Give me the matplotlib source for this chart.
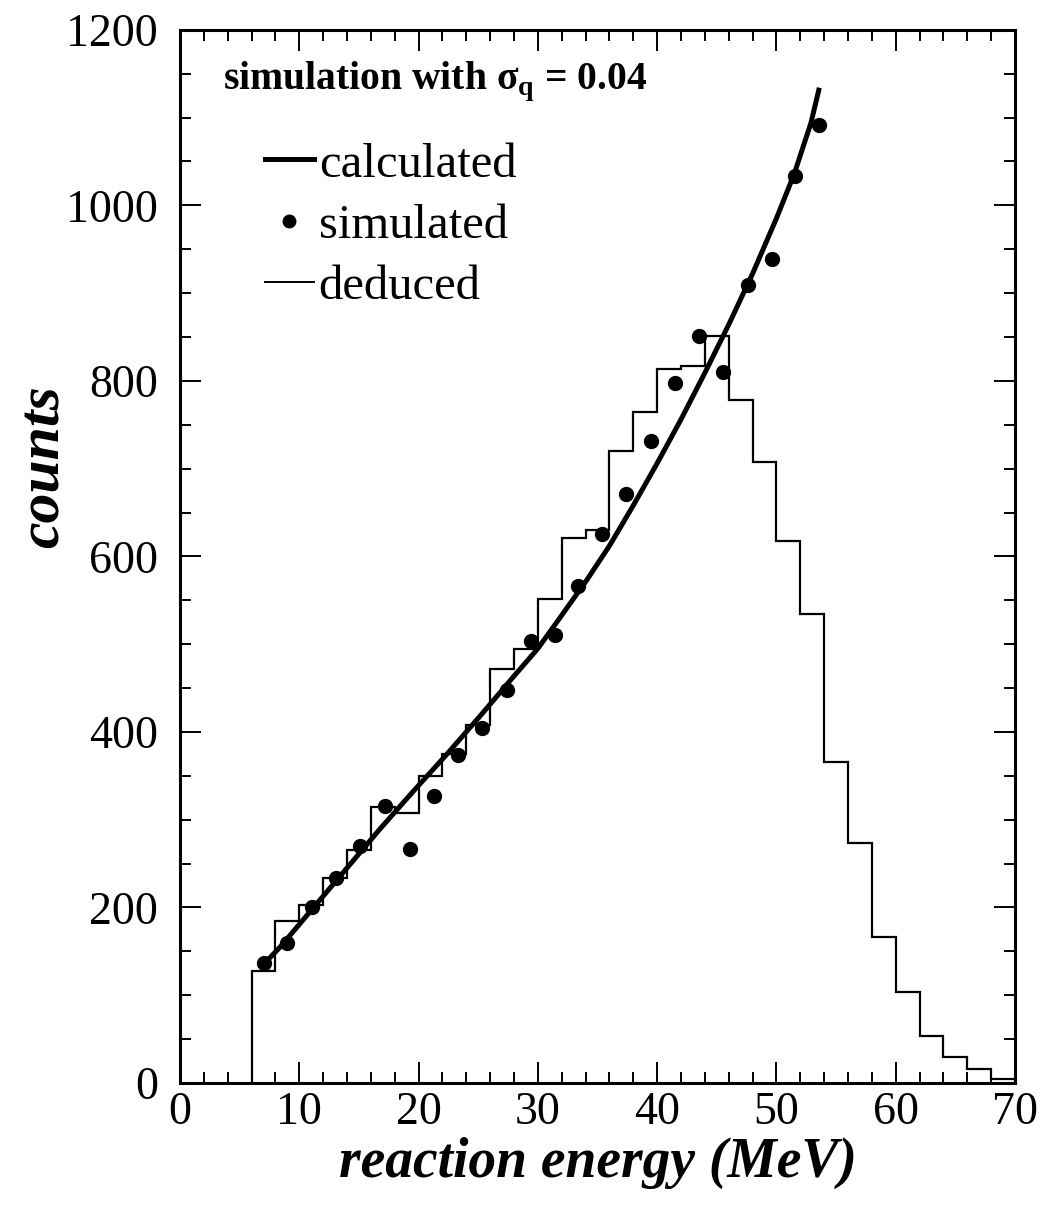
import numpy as np
import matplotlib
matplotlib.use('Agg')
import matplotlib.pyplot as plt
from matplotlib.lines import Line2D

plt.rcParams['font.family'] = ['Liberation Serif', 'DejaVu Serif']
plt.rcParams['mathtext.fontset'] = 'custom'
plt.rcParams['mathtext.rm'] = 'Liberation Serif'
plt.rcParams['mathtext.bf'] = 'Liberation Serif:bold'

# %% data

# deduced histogram, 2 MeV bins from 6 to 70 MeV
bin_edges = np.arange(6, 72, 2)
deduced = [128, 185, 203, 234, 266, 315, 308, 350, 375, 408, 472, 494, 552, 621,
           630, 720, 765, 814, 817, 851, 778, 708, 618, 534, 366, 273, 166, 104,
           54, 30, 16, 4]

# simulated points
sim_e = [7.0, 9.0, 11.1, 13.1, 15.1, 17.2, 19.25, 21.3, 23.3, 25.3, 27.4, 29.4,
         31.4, 33.4, 35.4, 37.4, 39.5, 41.5, 43.5, 45.5, 47.6, 49.6, 51.6, 53.6]
sim_counts = [137, 160, 200, 234, 270, 316, 267, 327, 374, 405, 448, 504,
              510, 566, 625, 671, 731, 797, 851, 810, 909, 939, 1033, 1091]

# calculated curve
calc_e = [6.85, 8.4, 11.2, 14.0, 16.8, 19.6, 22.4, 25.15, 27.9, 30.0, 31.85, 34.1,
          36.0, 38.0, 40.0, 42.0, 44.0, 46.0, 48.0, 50.0, 51.5, 52.9, 53.6]
calc_counts = [133, 155, 200, 245, 290, 333, 375, 418, 462, 495, 530, 573,
               612, 658, 706, 756, 809, 864, 922, 985, 1036, 1094, 1134]

# %% plot

fig = plt.figure(figsize=(10.43, 12.06), dpi=100)
ax = fig.add_axes([0.1726, 0.102, 0.8005, 0.8733])

ax.stairs(deduced, bin_edges, baseline=0, color='black', lw=1.6)
ax.plot(calc_e, calc_counts, color='black', lw=3.6, solid_capstyle='butt')
ax.plot(sim_e, sim_counts, 'o', color='black', ms=10, mec='black')

ax.set_xlim(0, 70)
ax.set_ylim(0, 1200)
ax.set_xticks(np.arange(0, 71, 10))
ax.set_xticks(np.arange(0, 71, 2), minor=True)
ax.set_yticks(np.arange(0, 1201, 200))
ax.set_yticks(np.arange(0, 1201, 50), minor=True)
ax.tick_params(which='both', direction='in', top=True, right=True, width=1.4)
ax.tick_params(which='major', length=15, labelsize=33)
ax.tick_params(which='minor', length=8)
ax.tick_params(axis='x', pad=6)
ax.tick_params(axis='y', pad=16)
for s in ax.spines.values():
    s.set_linewidth(2.2)

ax.set_xlabel('reaction energy (MeV)', fontsize=40, fontweight='bold',
              fontstyle='italic', labelpad=2)
ax.set_ylabel('counts', fontsize=43, fontweight='bold', fontstyle='italic')
ax.yaxis.set_label_coords(-0.13, 0.585)

ax.text(0.051, 0.972, r'simulation with σ$_\mathbf{q}$ = 0.04', transform=ax.transAxes,
        fontsize=28.5, fontweight='bold', va='top', ha='left')

handles = [Line2D([], [], color='black', lw=3.6),
           Line2D([], [], ls='none', marker='o', ms=9, color='black'),
           Line2D([], [], color='black', lw=1.4)]
leg = ax.legend(handles, ['calculated', 'simulated', 'deduced'], loc='upper left',
                bbox_to_anchor=(0.102, 0.893), frameon=False, fontsize=35,
                handlelength=1.0, handletextpad=0.1, labelspacing=0.35,
                borderaxespad=0, borderpad=0)

fig.savefig('out.png', dpi=100)
